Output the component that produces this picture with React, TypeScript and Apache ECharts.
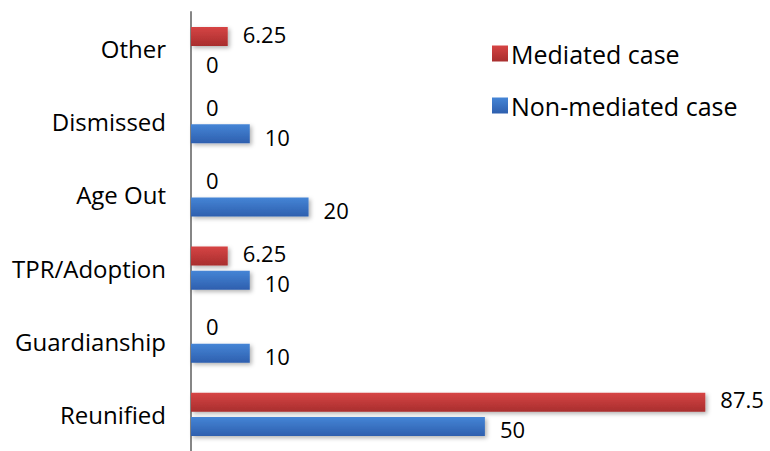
import React, { useEffect, useRef } from "react";
import * as echarts from "echarts";

const categories = ["Reunified", "Guardianship", "TPR/Adoption", "Age Out", "Dismissed", "Other"];
const mediated = [87.5, 0, 6.25, 0, 0, 6.25];
const nonMediated = [50, 10, 10, 20, 10, 0];
const seriesNames = ["Mediated case", "Non-mediated case"];

const FONT = "Open Sans";

export default function App() {
  const ref = useRef<HTMLDivElement>(null);
  useEffect(() => {
    if (!ref.current) return;
    const chart = echarts.init(ref.current, null, { renderer: "svg" });
    const redGrad = new echarts.graphic.LinearGradient(0, 0, 0, 1, [
      { offset: 0, color: "#d64444" },
      { offset: 1, color: "#a82e2e" },
    ]);
    const blueGrad = new echarts.graphic.LinearGradient(0, 0, 0, 1, [
      { offset: 0, color: "#4585d6" },
      { offset: 1, color: "#2e5fae" },
    ]);
    const label = {
      show: true,
      position: "right" as const,
      distance: 15,
      color: "#000",
      fontSize: 22,
      lineHeight: 20,
      fontFamily: FONT,
    };
    const shadow = {
      shadowColor: "rgba(0,0,0,0.3)",
      shadowBlur: 4,
      shadowOffsetX: 2,
      shadowOffsetY: 2,
    };
    chart.setOption({
      animation: false,
      backgroundColor: "#fff",
      grid: { left: 191, top: 12, width: 529, height: 446 },
      legend: {
        data: seriesNames,
        orient: "vertical",
        left: 492,
        top: 41,
        padding: 0,
        itemWidth: 16,
        itemHeight: 16,
        itemGap: 27,
        icon: "rect",
        textStyle: {
          fontSize: 25,
          lineHeight: 24,
          fontFamily: FONT,
          color: "#000",
          padding: [0, 0, 0, -2],
        },
      },
      xAxis: {
        type: "value",
        min: 0,
        max: 90,
        show: false,
        splitLine: { show: false },
      },
      yAxis: {
        type: "category",
        data: categories,
        axisLine: { show: true, lineStyle: { color: "#868686", width: 2 } },
        axisTick: { show: false },
        axisLabel: { color: "#000", fontSize: 24, fontFamily: FONT, margin: 25 },
      },
      series: [
        {
          name: seriesNames[0],
          type: "bar",
          data: mediated,
          barWidth: 19,
          barGap: "27%",
          itemStyle: { color: redGrad, ...shadow },
          label: { ...label, offset: [0, -3] },
        },
        {
          name: seriesNames[1],
          type: "bar",
          data: nonMediated,
          barWidth: 19,
          barGap: "27%",
          itemStyle: { color: blueGrad, ...shadow },
          label: { ...label, offset: [0, 3] },
        },
      ],
    });
    return () => chart.dispose();
  }, []);
  return (
    <div
      ref={ref}
      style={{ position: "fixed", left: 0, top: 0, width: 770, height: 451 }}
    />
  );
}
